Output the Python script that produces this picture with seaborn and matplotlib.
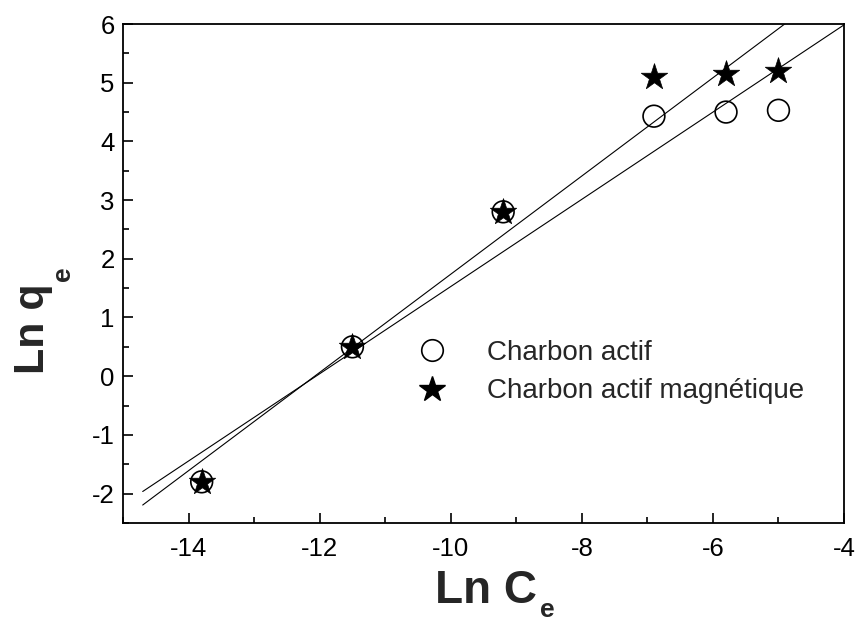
import numpy as np
import pandas as pd
import matplotlib
matplotlib.use("Agg")
import matplotlib.pyplot as plt
from matplotlib.lines import Line2D
from matplotlib.ticker import MultipleLocator
import seaborn as sns

# Data
ln_ce = [-13.8, -11.5, -9.2, -6.9, -5.8, -5.0]
ln_qe_ca = [-1.8, 0.5, 2.8, 4.43, 4.5, 4.53]
ln_qe_cam = [-1.8, 0.5, 2.8, 5.1, 5.15, 5.2]
labels = ["Charbon actif", "Charbon actif magnétique"]

sns.set_theme(style="white")
plt.rcParams['font.family'] = ['Liberation Sans', 'DejaVu Sans']
plt.rcParams['axes.unicode_minus'] = False

fig = plt.figure(figsize=(8.58, 6.24), dpi=100)
ax = fig.add_axes([0.1434, 0.162, 0.8403, 0.7995])

# fit lines
xfit = np.linspace(-14.7, -4.0, 200)
for y in (ln_qe_cam, ln_qe_ca):
    k, b = np.polyfit(ln_ce, y, 1)
    sns.lineplot(x=xfit, y=k * xfit + b, ax=ax, color='black', lw=0.8, zorder=2)

df = pd.DataFrame({"x": ln_ce, "ca": ln_qe_ca, "cam": ln_qe_cam})
sns.scatterplot(data=df, x="x", y="ca", ax=ax, marker='o', s=245,
                facecolor='none', edgecolor='black', linewidth=1.2, zorder=3)
sns.scatterplot(data=df, x="x", y="cam", ax=ax, marker='*', s=400,
                color='black', edgecolor='black', linewidth=0.5, zorder=4)

ax.set_xlim(-15, -4)
ax.set_ylim(-2.5, 6)
ax.xaxis.set_major_locator(MultipleLocator(2))
ax.xaxis.set_minor_locator(MultipleLocator(1))
ax.yaxis.set_major_locator(MultipleLocator(1))
ax.yaxis.set_minor_locator(MultipleLocator(0.5))
ax.tick_params(which='both', direction='in', bottom=True, left=True,
               top=False, right=False, width=1.2, colors='black')
ax.tick_params(which='major', length=7, labelsize=18.5, pad=10)
ax.tick_params(which='minor', length=4)
ax.tick_params(axis='y', pad=6)
for s in ax.spines.values():
    s.set_color('black')
    s.set_linewidth(1.3)

# axis labels with low-set subscripts
ax.set_xlabel("Ln C", fontsize=33, fontweight='bold')
ax.xaxis.set_label_coords(0.504, -0.092)
ax.set_ylabel("Ln q", fontsize=31, fontweight='bold')
ax.yaxis.set_label_coords(-0.097, 0.39)
fig.text(547 / 858, 1 - 610 / 624, "e", fontsize=19, fontweight='bold',
         ha='center', va='center')
fig.text(63 / 858, 1 - 274 / 624, "e", fontsize=19, fontweight='bold',
         ha='center', va='center', rotation=90)

handles = [Line2D([], [], ls='none', marker='o', ms=15.5, mfc='none', mec='black', mew=1.2),
           Line2D([], [], ls='none', marker='*', ms=19, mfc='black', mec='black')]
ax.legend(handles, labels, loc='upper left', bbox_to_anchor=(0.4098, 0.367),
          frameon=False, fontsize=20, handlelength=1.0, handletextpad=1.48,
          labelspacing=0.45, borderpad=0, borderaxespad=0)

fig.savefig("out.png", dpi=100)
